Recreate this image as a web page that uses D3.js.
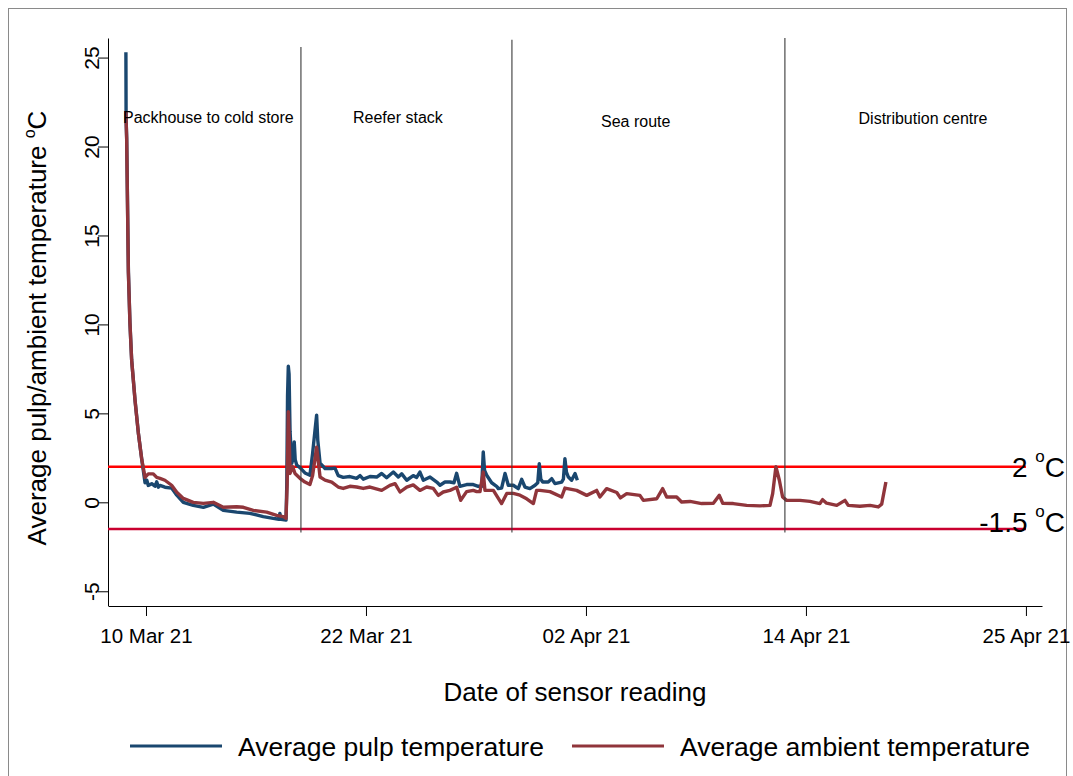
<!DOCTYPE html>
<html>
<head>
<meta charset="utf-8">
<script src="https://d3js.org/d3.v7.min.js"></script>
<style>
  html, body { margin: 0; padding: 0; background: #fff; }
  svg { display: block; font-family: "Liberation Sans", Arial, sans-serif; }
</style>
</head>
<body>
<script>
// time is given as fractional day of March 2021 (32 = 1 Apr)
var pulp = [
  [9.45, 25.3], [9.46, 21.5], [9.49, 20.5], [9.58, 13.0], [9.66, 10.1], [9.75, 8.0], [9.93, 5.7],
  [10.10, 3.9], [10.28, 2.4], [10.45, 1.1], [10.54, 1.25], [10.62, 0.95], [10.80, 1.05], [10.97, 0.9],
  [11.06, 1.15], [11.15, 0.85], [11.23, 0.95], [11.49, 0.85], [11.84, 0.8], [12.11, 0.4], [12.45, 0.0],
  [12.97, -0.17], [13.5, -0.28], [14.02, -0.1], [14.54, -0.45], [15.24, -0.55], [15.93, -0.62],
  [16.63, -0.8], [17.15, -0.9], [17.45, -0.95], [17.5, -0.62], [17.56, -0.95], [17.82, -1.0],
  [17.86, 1.0], [17.9, 6.0], [17.94, 7.65], [17.98, 7.2], [18.03, 4.0], [18.12, 2.2], [18.2, 2.5],
  [18.25, 3.4], [18.3, 2.4], [18.38, 2.1], [18.55, 1.95], [18.81, 1.65], [19.07, 1.52], [19.21, 2.75],
  [19.35, 4.2], [19.42, 4.9], [19.48, 3.5], [19.6, 2.2], [19.86, 1.9], [20.21, 1.9], [20.38, 1.92],
  [20.55, 1.5], [20.81, 1.4], [21.16, 1.45], [21.51, 1.35], [21.69, 1.5], [21.86, 1.3], [22.21, 1.45],
  [22.56, 1.42], [22.82, 1.62], [23.08, 1.38], [23.43, 1.7], [23.69, 1.42], [23.87, 1.6], [24.13, 1.24],
  [24.47, 1.5], [24.65, 1.4], [24.82, 1.7], [25.0, 1.24], [25.35, 1.42], [25.7, 1.14], [25.87, 0.96],
  [26.13, 1.14], [26.39, 1.14], [26.6, 1.1], [26.74, 1.63], [26.91, 0.9], [27.26, 1.0], [27.61, 1.0],
  [27.87, 0.9], [28.05, 0.9], [28.13, 2.83], [28.2, 1.8], [28.31, 1.52], [28.57, 1.1], [28.83, 0.9],
  [28.92, 0.77], [29.09, 0.8], [29.27, 1.62], [29.44, 0.96], [29.70, 0.96], [29.96, 0.77], [30.14, 1.29],
  [30.31, 0.86], [30.57, 0.77], [30.84, 0.96], [30.98, 1.1], [31.06, 2.17], [31.14, 1.3], [31.24, 1.14],
  [31.53, 1.14], [31.71, 1.33], [31.88, 1.05], [32.23, 1.14], [32.32, 1.3], [32.40, 2.45], [32.48, 1.7],
  [32.58, 1.42], [32.75, 1.24], [32.93, 1.62], [33.05, 1.24]
];

var ambient = [
  [9.45, 22.0], [9.49, 20.4], [9.58, 12.9], [9.66, 10.1], [9.75, 8.0], [9.93, 5.7], [10.10, 3.9],
  [10.28, 2.4], [10.45, 1.4], [10.62, 1.6], [10.88, 1.6], [11.06, 1.4], [11.23, 1.35], [11.49, 1.24],
  [11.84, 0.96], [12.11, 0.56], [12.45, 0.22], [12.97, 0.0], [13.5, -0.06], [14.02, 0.0], [14.54, -0.28],
  [15.24, -0.25], [15.59, -0.28], [16.11, -0.45], [16.81, -0.55], [17.33, -0.73], [17.68, -0.8],
  [17.82, -0.9], [17.88, 1.0], [17.94, 5.1], [17.99, 3.5], [18.03, 1.62], [18.17, 2.0], [18.29, 1.62],
  [18.55, 1.35], [18.81, 1.14], [19.07, 1.0], [19.21, 1.5], [19.42, 3.1], [19.6, 1.42], [19.86, 1.25],
  [20.21, 1.14], [20.55, 0.86], [20.81, 0.78], [21.16, 0.9], [21.51, 0.86], [21.86, 0.78], [22.21, 0.86],
  [22.82, 0.67], [23.25, 0.95], [23.52, 1.05], [23.78, 0.58], [24.13, 0.86], [24.47, 0.98], [24.82, 0.67],
  [25.17, 0.86], [25.52, 0.78], [25.78, 0.39], [26.04, 0.58], [26.39, 0.67], [26.74, 0.85], [26.95, 0.11],
  [27.26, 0.6], [27.61, 0.67], [27.79, 0.6], [27.96, 0.6], [28.13, 1.7], [28.22, 0.67], [28.66, 0.67],
  [29.09, -0.07], [29.36, 0.5], [29.70, 0.5], [30.05, 0.4], [30.40, 0.2], [30.75, -0.07], [30.92, 0.67],
  [31.10, 0.67], [31.62, 0.6], [32.23, 0.3], [32.40, 0.8], [33.01, 0.67], [33.54, 0.39], [34.06, 0.67],
  [34.23, 0.3], [34.58, 0.77], [35.11, 0.55], [35.3, 0.25], [35.63, 0.49], [36.32, 0.39], [36.50, 0.11],
  [37.20, 0.2], [37.51, 0.77], [37.72, 0.3], [38.24, 0.3], [38.50, 0.02], [38.94, 0.05], [39.55, -0.07],
  [40.16, -0.05], [40.47, 0.39], [40.65, -0.05], [41.20, -0.07], [41.90, -0.17], [42.60, -0.2],
  [43.12, -0.17], [43.26, 0.49], [43.43, 2.0], [43.61, 1.24], [43.78, 0.3], [43.99, 0.11], [44.69, 0.11],
  [45.21, 0.05], [45.73, -0.07], [45.87, 0.15], [46.08, -0.05], [46.61, -0.17], [47.04, 0.11],
  [47.21, -0.17], [47.82, -0.22], [48.35, -0.17], [48.78, -0.26], [48.96, -0.1], [49.08, 0.58], [49.18, 1.14]
];

var xTickDays = [10.5, 22, 33.5, 45, 56.5];
var yTicks = [-5, 0, 5, 10, 15, 20, 25];
var xDomainDays = [8.514, 57.34];
var yDomain = [-5.8, 26.1];

var thresholds = [2, -1.5];
var thresholdText = ["2 ", "-1.5 "];

var stageNames = ["Packhouse to cold store", "Reefer stack", "Sea route", "Distribution centre"];
var stageCentreDays = [13.76, 23.67, 36.1, 51.12];
var stageLabelTemp = [21.3, 21.3, 21.1, 21.25];
var stageBreakDays = [18.60, 29.63, 43.90];
var stageBreakTop = [25.6, 26.0, 26.1];
var stageBreakBottom = -1.7;

var seriesNames = ["Average pulp temperature", "Average ambient temperature"];

function toDate(t) { return new Date(Date.UTC(2021, 2, 1) + (t - 1) * 864e5); }

var svg = d3.select("body").append("svg").attr("width", 1073).attr("height", 776);

// outer frame
svg.append("rect").attr("x", 8.5).attr("y", 8.5).attr("width", 1058).attr("height", 800)
  .attr("fill", "none").attr("stroke", "#8a8a8a").attr("stroke-width", 1);

var x = d3.scaleUtc().domain(xDomainDays.map(toDate)).range([108, 1042]);
var y = d3.scaleLinear().domain(yDomain).range([605.5, 38]);

var blue = "#1a476f", maroon = "#90353b";

// axes
var xAxis = svg.append("g").attr("transform", "translate(0,606)")
  .call(d3.axisBottom(x).tickValues(xTickDays.map(toDate))
    .tickFormat(d3.utcFormat("%d %b %y")).tickSize(10).tickSizeOuter(0).tickPadding(12));
xAxis.attr("font-family", null);
xAxis.selectAll("text").attr("font-size", 20.5).attr("fill", "#000");

var yAxis = svg.append("g").attr("transform", "translate(108,0)")
  .call(d3.axisLeft(y).tickValues(yTicks).tickSize(10).tickSizeOuter(0)
    .tickFormat(function(d) { return String(d); }));
yAxis.attr("font-family", null);
yAxis.selectAll("text")
  .attr("transform", "rotate(-90)")
  .attr("x", 0).attr("y", -9).attr("dy", 0)
  .attr("text-anchor", "middle")
  .attr("font-size", 21).attr("fill", "#000");
svg.selectAll(".domain, .tick line").attr("stroke", "#000");

// axis titles
var yt = svg.append("text").attr("transform", "translate(46,328) rotate(-90)")
  .attr("text-anchor", "middle").attr("font-size", 26);
yt.append("tspan").text("Average pulp/ambient temperature ");
yt.append("tspan").attr("font-size", 16).attr("dy", -11).text("o");
yt.append("tspan").attr("dy", 11).text("C");

svg.append("text").attr("x", 575).attr("y", 701).attr("text-anchor", "middle")
  .attr("font-size", 26).text("Date of sensor reading");

// threshold lines
var thColors = ["#ff0000", "#c9002f"];
var thDy = [10.5, 2.5];
thresholds.forEach(function(v, i) {
  svg.append("line")
    .attr("x1", x(toDate(xDomainDays[0]))).attr("x2", x(toDate(xTickDays[xTickDays.length - 1])))
    .attr("y1", y(v)).attr("y2", y(v))
    .attr("stroke", thColors[i]).attr("stroke-width", 2.3);
});

// series
var line = d3.line()
  .x(function(d) { return x(toDate(d[0])); })
  .y(function(d) { return y(d[1]); });

svg.append("path").datum(pulp).attr("d", line)
  .attr("fill", "none").attr("stroke", blue).attr("stroke-width", 3.4).attr("stroke-linejoin", "round");
svg.append("path").datum(ambient).attr("d", line)
  .attr("fill", "none").attr("stroke", maroon).attr("stroke-width", 3.4).attr("stroke-linejoin", "round");

// stage separators
stageBreakDays.forEach(function(t, i) {
  svg.append("line")
    .attr("x1", x(toDate(t))).attr("x2", x(toDate(t)))
    .attr("y1", y(stageBreakTop[i])).attr("y2", y(stageBreakBottom))
    .attr("stroke", "#3a3a3a").attr("stroke-width", 1.1);
});

stageNames.forEach(function(name, i) {
  svg.append("text")
    .attr("x", x(toDate(stageCentreDays[i]))).attr("y", y(stageLabelTemp[i]))
    .attr("text-anchor", "middle").attr("font-size", 16).text(name);
});

// threshold labels
thresholds.forEach(function(v, i) {
  var t = svg.append("text").attr("x", 1065).attr("y", y(v) + thDy[i])
    .attr("text-anchor", "end").attr("font-size", 28);
  t.append("tspan").text(thresholdText[i]);
  t.append("tspan").attr("font-size", 17).attr("dy", -15).text("o");
  t.append("tspan").attr("dy", 15).text("C");
});

// legend
var legX = [130, 572];
seriesNames.forEach(function(name, i) {
  svg.append("line").attr("x1", legX[i]).attr("x2", legX[i] + 92)
    .attr("y1", 746).attr("y2", 746)
    .attr("stroke", i === 0 ? blue : maroon).attr("stroke-width", 3);
  svg.append("text").attr("x", legX[i] + 108).attr("y", 756)
    .attr("font-size", 26.5).text(name);
});
</script>
</body>
</html>
